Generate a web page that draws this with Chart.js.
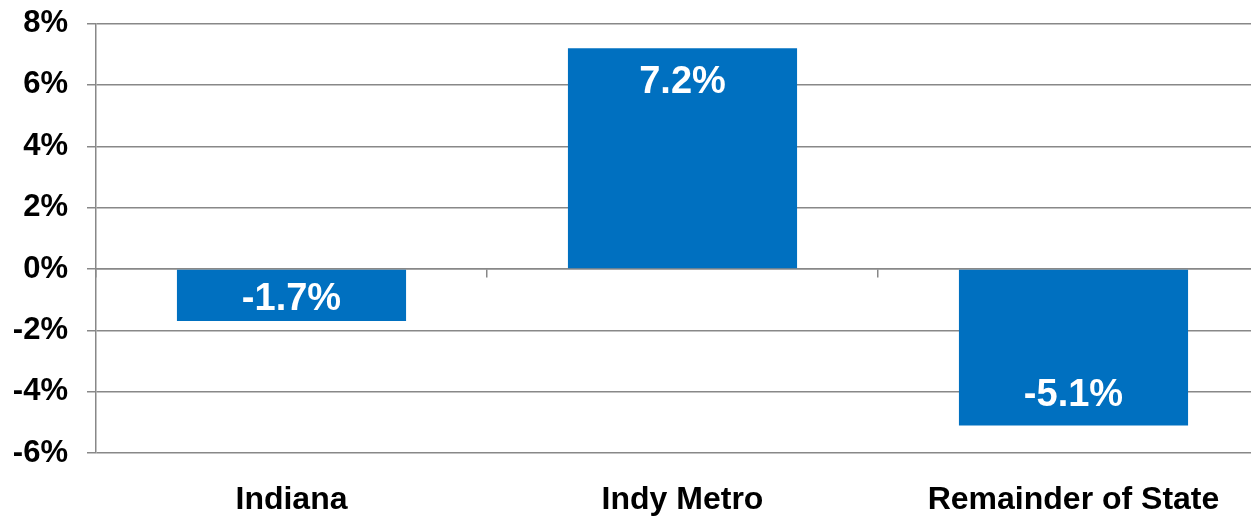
<!DOCTYPE html>
<html>
<head>
<meta charset="utf-8">
<script src="https://cdn.jsdelivr.net/npm/chart.js@4.4.0/dist/chart.umd.min.js"></script>
<style>
  html, body { margin: 0; padding: 0; background: #fff; overflow: hidden; }
  #wrap { width: 1270px; height: 530px; position: relative; top: -14px; }
</style>
</head>
<body>
<div id="wrap"><canvas id="myChart"></canvas></div>
<script>
const categories = ['Indiana', 'Indy Metro', 'Remainder of State'];
const changeValues = [-1.7, 7.2, -5.1];
const valueLabels = ['-1.7%', '7.2%', '-5.1%'];
const yMin = -6, yMax = 8, yStep = 2;

const gridColor = '#888888';
const barColor = '#0070C0';

// draws the white value text inside the end of each bar
const barLabels = {
  id: 'barLabels',
  afterDatasetsDraw(chart) {
    const ctx = chart.ctx;
    const meta = chart.getDatasetMeta(0);
    ctx.save();
    ctx.fillStyle = '#ffffff';
    ctx.font = 'bold 38px "Liberation Sans", Arial, sans-serif';
    ctx.textAlign = 'center';
    ctx.textBaseline = 'middle';
    meta.data.forEach((bar, i) => {
      const h = Math.abs(bar.base - bar.y);
      const pos = changeValues[i] >= 0;
      const off = Math.min(pos ? 34 : 30, h * 0.42);
      const y = pos ? bar.y + off : bar.y - off;
      ctx.fillText(valueLabels[i], bar.x, y);
    });
    ctx.restore();
  }
};

function initChart(chart) {
  const data = {
    labels: categories,
    datasets: [{
      data: changeValues,
      backgroundColor: barColor,
      borderWidth: 0,
      categoryPercentage: 1,
      barPercentage: 0.586
    }]
  };

  const config = {
    type: 'bar',
    data: data,
    plugins: [barLabels],
    options: {
      responsive: true,
      maintainAspectRatio: false,
      animation: false,
      layout: { padding: { top: 0, right: 1, left: 0, bottom: 0 } },
      plugins: { legend: { display: false }, tooltip: { enabled: false } },
      scales: {
        x: {
          position: { y: 0 },
          offset: true,
          grid: { offset: true, drawOnChartArea: false, drawTicks: true, tickLength: 8, color: gridColor, lineWidth: 1.5 },
          border: { display: true, color: gridColor, width: 1.5 },
          ticks: { display: false }
        },
        x2: {
          type: 'category',
          position: 'bottom',
          labels: categories,
          offset: true,
          grid: { display: false, drawTicks: false },
          border: { display: false },
          ticks: {
            color: '#000',
            padding: 28,
            maxRotation: 0,
            font: { family: '"Liberation Sans", Arial, sans-serif', size: 32, weight: 'bold' }
          },
          afterFit(scale) { scale.height = 63; }
        },
        y: {
          min: yMin,
          max: yMax,
          grid: { color: gridColor, lineWidth: 1.5, tickLength: 9 },
          border: { display: true, color: gridColor, width: 1.5 },
          ticks: {
            stepSize: yStep,
            padding: 19,
            color: '#000',
            font: { family: '"Liberation Sans", Arial, sans-serif', size: 31, weight: 'bold' },
            callback: (v) => v + '%'
          },
          afterFit(scale) { scale.width = 96; }
        }
      }
    }
  };

  return new Chart(chart, config);
}

initChart(document.querySelector('#myChart'));
</script>
</body>
</html>
